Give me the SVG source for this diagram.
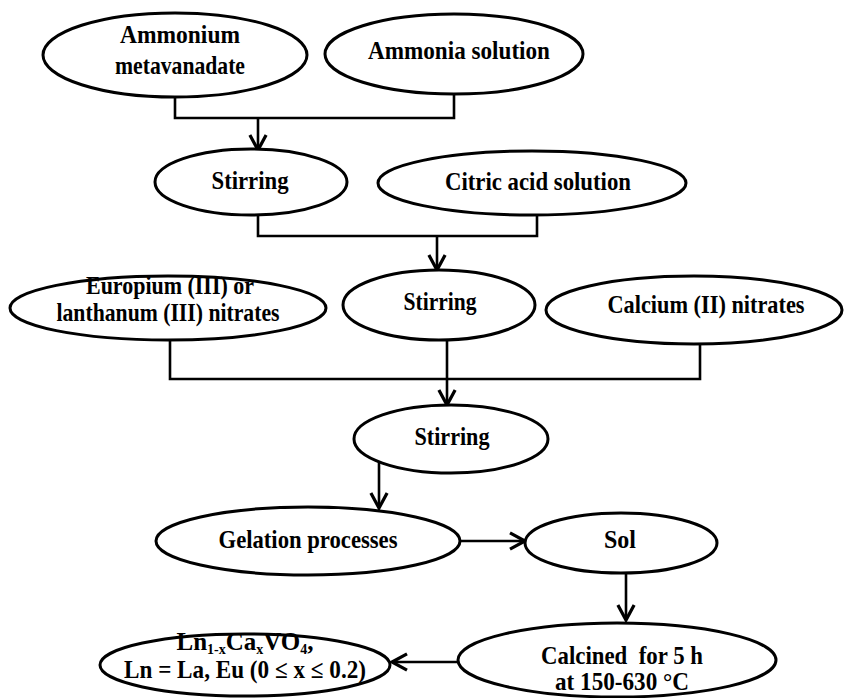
<svg xmlns="http://www.w3.org/2000/svg" width="845" height="698" viewBox="0 0 845 698">
<style>
.n ellipse{fill:#fff;stroke:#000;stroke-width:3}
.c path{fill:none;stroke:#000;stroke-width:2.6}
text{font-family:"Liberation Serif","Times New Roman",serif;font-weight:bold;font-size:25px;fill:#000;text-anchor:middle;white-space:pre}
</style>
<defs>
<marker id="ah" markerUnits="userSpaceOnUse" markerWidth="20" markerHeight="20" refX="13" refY="7.5" orient="auto" viewBox="0 0 16 15">
<path d="M1,1 L13,7.5 L1,14" fill="none" stroke="#000" stroke-width="2.6"/>
</marker>
</defs>
<rect width="845" height="698" fill="#fff"/>
<g class="c" id="connectors">
<path d="M175,90 V118 H454 V88"/>
<path d="M258,118 V150" marker-end="url(#ah)"/>
<path d="M258,205 V236 H537 V205"/>
<path d="M437,236 V270" marker-end="url(#ah)"/>
<path d="M170,330 V379 H700 V335"/>
<path d="M447,330 V405" marker-end="url(#ah)"/>
<path d="M379,460 V508" marker-end="url(#ah)"/>
<path d="M458,541 H525" marker-end="url(#ah)"/>
<path d="M626,565 V620" marker-end="url(#ah)"/>
<path d="M470,662 H392" marker-end="url(#ah)"/>
</g>
<g class="n" id="n-ammonium">
<ellipse cx="175" cy="55" rx="132" ry="42"/>
<text x="180" y="43" textLength="120" lengthAdjust="spacingAndGlyphs">Ammonium</text>
<text x="180" y="74" textLength="130" lengthAdjust="spacingAndGlyphs">metavanadate</text>
</g>
<g class="n" id="n-ammonia">
<ellipse cx="454" cy="54" rx="129" ry="40"/>
<text x="459" y="59" textLength="182" lengthAdjust="spacingAndGlyphs">Ammonia solution</text>
</g>
<g class="n" id="n-stir1">
<ellipse cx="251" cy="182" rx="96" ry="33"/>
<text x="250" y="189" textLength="77" lengthAdjust="spacingAndGlyphs">Stirring</text>
</g>
<g class="n" id="n-citric">
<ellipse cx="532" cy="183" rx="154" ry="32"/>
<text x="538" y="190" textLength="186" lengthAdjust="spacingAndGlyphs">Citric acid solution</text>
</g>
<g class="n" id="n-europium">
<ellipse cx="168" cy="308" rx="158" ry="32"/>
<text x="170" y="294" font-size="23" textLength="168" lengthAdjust="spacingAndGlyphs">Europium (III) or</text>
<text x="168" y="321" font-size="23" textLength="223" lengthAdjust="spacingAndGlyphs">lanthanum (III) nitrates</text>
</g>
<g class="n" id="n-stir2">
<ellipse cx="439" cy="305" rx="96" ry="35"/>
<text x="440" y="310" textLength="73" lengthAdjust="spacingAndGlyphs">Stirring</text>
</g>
<g class="n" id="n-calcium">
<ellipse cx="694" cy="310" rx="148" ry="34"/>
<text x="706" y="313" textLength="197" lengthAdjust="spacingAndGlyphs">Calcium (II) nitrates</text>
</g>
<g class="n" id="n-stir3">
<ellipse cx="451" cy="439" rx="97" ry="34"/>
<text x="452" y="445" textLength="75" lengthAdjust="spacingAndGlyphs">Stirring</text>
</g>
<g class="n" id="n-gelation">
<ellipse cx="308" cy="541" rx="152" ry="34"/>
<text x="308" y="548" textLength="179" lengthAdjust="spacingAndGlyphs">Gelation processes</text>
</g>
<g class="n" id="n-sol">
<ellipse cx="621" cy="543" rx="96" ry="30"/>
<text x="620" y="548" textLength="32" lengthAdjust="spacingAndGlyphs">Sol</text>
</g>
<g class="n" id="n-calcined">
<ellipse cx="617" cy="660" rx="159" ry="37"/>
<text x="622" y="664" textLength="162" lengthAdjust="spacingAndGlyphs">Calcined  for 5 h</text>
<text x="622" y="690" textLength="134" lengthAdjust="spacingAndGlyphs">at 150-630 °C</text>
</g>
<g class="n" id="n-product">
<ellipse cx="245" cy="665" rx="145" ry="31"/>
<text x="245" y="650" font-size="24">Ln<tspan font-size="14" dy="4">1-x</tspan><tspan dy="-4">Ca</tspan><tspan font-size="14" dy="4">x</tspan><tspan dy="-4">VO</tspan><tspan font-size="14" dy="4">4</tspan><tspan dy="-4">,</tspan></text>
<text x="245" y="678" textLength="242" lengthAdjust="spacingAndGlyphs">Ln = La, Eu (0 ≤ x ≤ 0.2)</text>
</g>
</svg>
